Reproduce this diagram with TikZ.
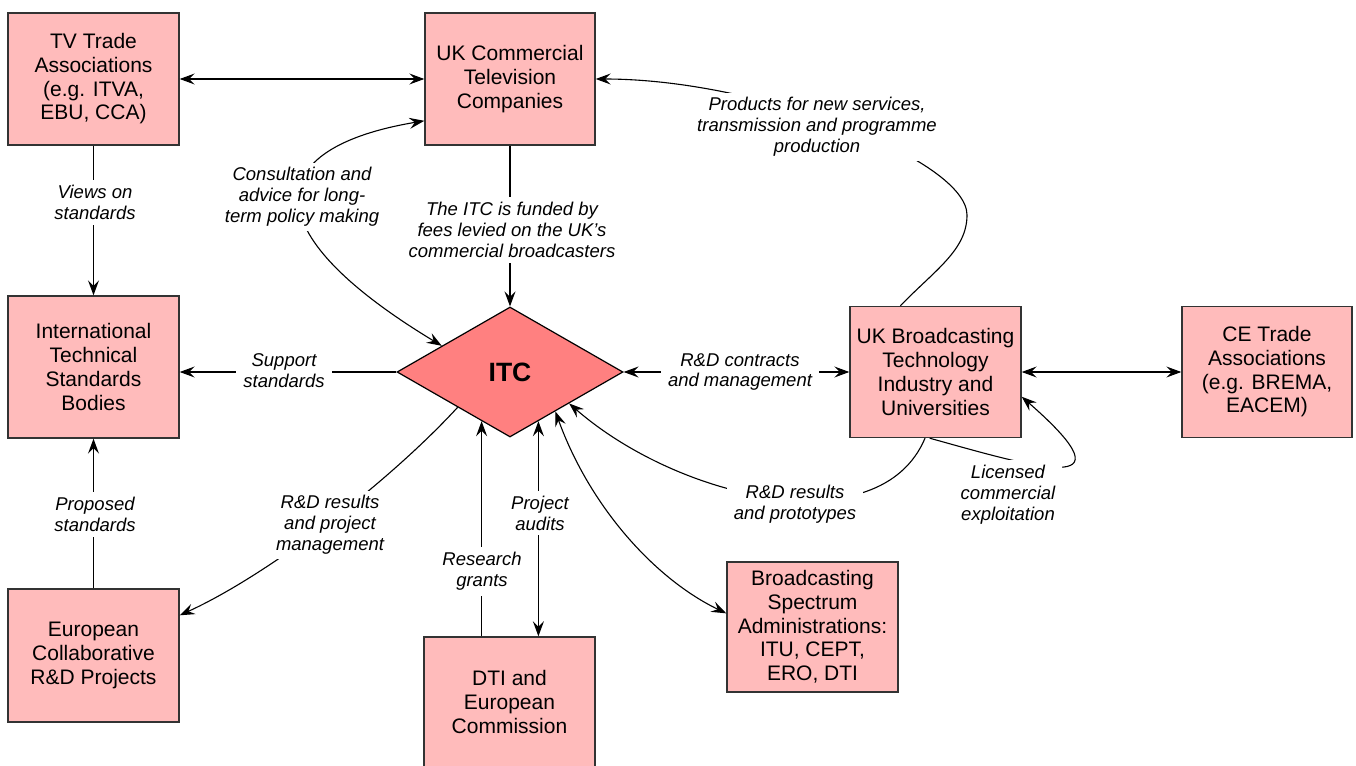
\documentclass[tikz,border=0pt]{standalone}
\usepackage{fontspec}
\setmainfont{Liberation Sans}
\usetikzlibrary{arrows.meta,shapes.geometric}
\definecolor{boxfill}{RGB}{255,187,187}
\definecolor{itcfill}{RGB}{255,128,128}
\definecolor{boxline}{RGB}{51,51,51}
\tikzset{
  >={Stealth[length=15pt,width=11pt,inset=5.5pt]},
  box/.style={draw=boxline, line width=1.4pt, fill=boxfill, minimum width=171pt,
    minimum height=131pt, inner sep=0pt, align=center,
    font=\fontsize{21}{23.7}\selectfont},
  lbl/.style={fill=white, inner xsep=7pt, inner ysep=5pt, align=center,
    font=\fontsize{18.5}{20.8}\selectfont\itshape},
  conn/.style={line width=1.1pt, draw=black},
}
\begin{document}
\begin{tikzpicture}[x=1pt,y=-1pt]
\path[use as bounding box, fill=white] (0,0) rectangle (1356,765);

% boxes
\node[box, minimum height=132pt] (tv) at (93.5,79) {TV Trade\\Associations\\(e.g. ITVA,\\EBU, CCA)};
\node[box, minimum width=170pt, minimum height=132pt] (ukc) at (510,79) {UK Commercial\\Television\\Companies};
\node[box, minimum height=142pt] (itsb) at (93.5,367) {International\\Technical\\Standards\\Bodies};
\node[box, minimum height=133pt] (euro) at (93.5,655.5) {European\\Collaborative\\R\&D Projects};
\node[box] (ukb) at (935.5,372) {UK Broadcasting\\Technology\\Industry and\\Universities};
\node[box, minimum width=170pt] (ce) at (1267,372) {CE Trade\\Associations\\(e.g. BREMA,\\EACEM)};
\node[box, minimum height=130pt] (spec) at (812.5,627) {Broadcasting\\Spectrum\\Administrations:\\ITU, CEPT,\\ERO, DTI};
\node[box, minimum height=130pt] (dti) at (509.5,702) {DTI and\\European\\Commission};
\node[diamond, draw=black, line width=1.2pt, fill=itcfill, aspect=1.74,
      minimum width=226pt, minimum height=130pt, inner sep=0pt,
      font=\fontsize{26.5}{30}\selectfont\bfseries] (itc) at (510,372) {ITC};

\coordinate (pbend) at (967,215);

% connectors
\draw[conn,<->] (tv.east) -- (ukc.west);
\draw[conn,->] (tv.south) -- (itsb.north);
\draw[conn,->] (euro.north) -- (itsb.south);
\draw[conn,->] (itc.west) -- (itc.west -| itsb.east);
\draw[conn,->] (ukc.south) -- (itc.north);
\draw[conn,<->] (itc.east) -- (ukb.west);
\draw[conn,<->] (ukb.east) -- (ce.west);
\draw[conn,<->] (itc.159) .. controls (250,230) and (262,148) .. (ukc.206);
\draw[conn,->] (ukb.118) .. controls (935,270) and (967,250) .. (pbend)
   .. controls (967,160) and (760,79) .. (ukc.east);
\draw[conn,->] (itc.214) .. controls (390,481) and (270,574) .. (euro.25);
\draw[conn,->] (dti.north -| itc.240) -- (itc.240);
\draw[conn,<->] (itc.300) -- (itc.300 |- dti.north);
\draw[conn,<->] (itc.319) .. controls (590,507) and (655,579) .. (spec.171);
\draw[conn,->] (ukb.261) .. controls (880,545) and (680,500) .. (itc.332);
\draw[conn,->] (ukb.265) .. controls (1030,466) and (1140,500) .. (ukb.344);

% labels
\node[lbl] (l1) at (95,202.5) {Views on\\standards};
\node[lbl] (l2) at (95,514.5) {Proposed\\standards};
\node[lbl] (l3) at (284,370.5) {Support\\standards};
\node[lbl] (l4) at (302,197) {Consultation and\\advice for long-\\term policy making};
\node[lbl] (l5) at (512,230) {The ITC is funded by\\fees levied on the UK’s\\commercial broadcasters};
\node[lbl] (l6) at (817,127) {Products for new services,\\transmission and programme\\production};
\node[lbl] (l7) at (740,372) {R\&D contracts\\and management};
\node[lbl] (l8) at (330,525) {R\&D results\\and project\\management};
\node[lbl] (l9) at (540,513) {Project\\audits};
\node[lbl] (l10) at (482,571.5) {Research\\grants};
\node[lbl] (l11) at (795,504) {R\&D results\\and prototypes};
\node[lbl] (l12) at (1008,494.5) {Licensed\\commercial\\exploitation};
\end{tikzpicture}
\end{document}
